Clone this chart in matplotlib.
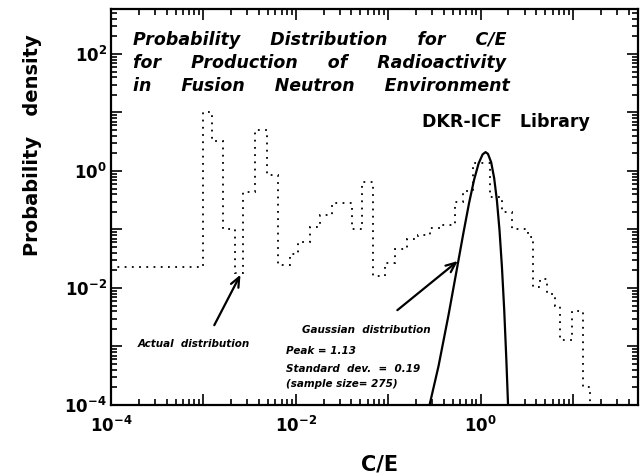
import numpy as np
import matplotlib
matplotlib.use('Agg')
import matplotlib.pyplot as plt
from matplotlib.ticker import LogLocator, FuncFormatter, NullFormatter

# histogram of C/E (bin edges as log10 C/E)
edges_log = [-4.00, -3.00, -2.91, -2.79, -2.66, -2.57, -2.44, -2.31, -2.19, -2.06,
             -1.98, -1.85, -1.74, -1.61, -1.39, -1.28, -1.16, -1.03, -0.93, -0.80,
             -0.68, -0.55, -0.42, -0.28, -0.19, -0.08, 0.10, 0.23, 0.34, 0.51,
             0.57, 0.64, 0.72, 0.81, 0.86, 0.99, 1.11, 1.18]
density = [0.023, 10, 3.2, 0.10, 0.018, 0.44, 5.0, 0.85, 0.025, 0.038,
           0.062, 0.11, 0.18, 0.28, 0.10, 0.65, 0.016, 0.027, 0.047, 0.069,
           0.08, 0.107, 0.12, 0.30, 0.46, 1.37, 0.36, 0.20, 0.10, 0.075,
           0.0105, 0.014, 0.008, 0.005, 0.0013, 0.004, 0.0002]

# gaussian curve (peak 1.13, sd 0.19)
gauss_x = [0.28, 0.35, 0.45, 0.55, 0.65, 0.75, 0.85, 0.95, 1.05, 1.13,
           1.20, 1.30, 1.40, 1.50, 1.60, 1.70, 1.80, 1.90, 1.98]
gauss_y = [1.0e-4, 4.6e-4, 3.5e-3, 0.020, 0.086, 0.284, 0.71, 1.34, 1.92, 2.10,
           1.96, 1.41, 0.76, 0.315, 0.098, 0.023, 0.0042, 5.7e-4, 1.0e-4]

W, H = 641, 476
fig = plt.figure(figsize=(W / 100, H / 100), dpi=100)
ax = fig.add_axes([111 / W, 1 - 405 / H, 527 / W, 396 / H])

def px(x, y):
    return x / W, 1 - y / H

edges = [10 ** e for e in edges_log]
ax.stairs(density, edges, baseline=1e-4, color='black', lw=1.3,
          linestyle=(0, (1, 3)))
ax.plot(gauss_x, gauss_y, color='black', lw=1.6)

ax.set_xscale('log')
ax.set_yscale('log')
ax.set_xlim(1e-4, 10 ** 1.703)
ax.set_ylim(1e-4, 10 ** 2.769)

def even_label(v, p):
    e = round(np.log10(v))
    return r'$\mathbf{10^{%d}}$' % e if e % 2 == 0 else ''

for axis in (ax.xaxis, ax.yaxis):
    axis.set_major_locator(LogLocator(base=10, subs=[1.0], numticks=20))
    axis.set_minor_locator(LogLocator(base=10, subs=np.arange(2, 10), numticks=20))
    axis.set_minor_formatter(NullFormatter())
    axis.set_major_formatter(FuncFormatter(even_label))

ax.tick_params(which='both', direction='in', top=True, right=True, width=1.2)
ax.tick_params(which='major', length=8)
ax.tick_params(which='minor', length=4)
ax.tick_params(axis='x', which='major', pad=8, labelsize=12)
ax.tick_params(axis='y', which='major', pad=3, labelsize=12)
for s in ax.spines.values():
    s.set_linewidth(1.6)

bi = dict(fontfamily='DejaVu Sans', fontweight='bold', fontstyle='italic')
title_lines = ['Probability     Distribution     for     C/E',
               'for     Production     of     Radioactivity',
               'in     Fusion     Neutron     Environment']
for line, yb in zip(title_lines, [45, 68, 91]):
    fig.text(*px(133, yb), line, fontsize=12.5, va='baseline', ha='left', **bi)

fig.text(*px(422, 127), 'DKR-ICF   Library', fontsize=12.5, fontweight='bold',
         va='baseline', ha='left')

fig.text(*px(138, 347), 'Actual  distribution', fontsize=7.5, va='baseline', **bi)
fig.text(*px(302, 333), 'Gaussian  distribution', fontsize=7.5, va='baseline', **bi)
fig.text(*px(286, 354), 'Peak = 1.13', fontsize=7.5, va='baseline', **bi)
fig.text(*px(286, 372), 'Standard  dev.  =  0.19', fontsize=7.5, va='baseline', **bi)
fig.text(*px(286, 387), '(sample size= 275)', fontsize=7.5, va='baseline', **bi)

arrow = dict(arrowstyle='->,head_length=0.7,head_width=0.3', color='black', lw=1.6)
ax.annotate('', xy=(2.6e-3, 0.0186), xytext=(1.27e-3, 2.1e-3), arrowprops=arrow)
ax.annotate('', xy=(0.598, 0.031), xytext=(0.119, 0.0039), arrowprops=arrow)

fig.text(*px(33, 145), 'Probability   density', rotation=90, fontsize=14,
         fontweight='bold', ha='center', va='center')
fig.text(*px(380, 470), 'C/E', fontsize=15, fontweight='bold',
         ha='center', va='baseline')

fig.savefig('out.png', dpi=100)
